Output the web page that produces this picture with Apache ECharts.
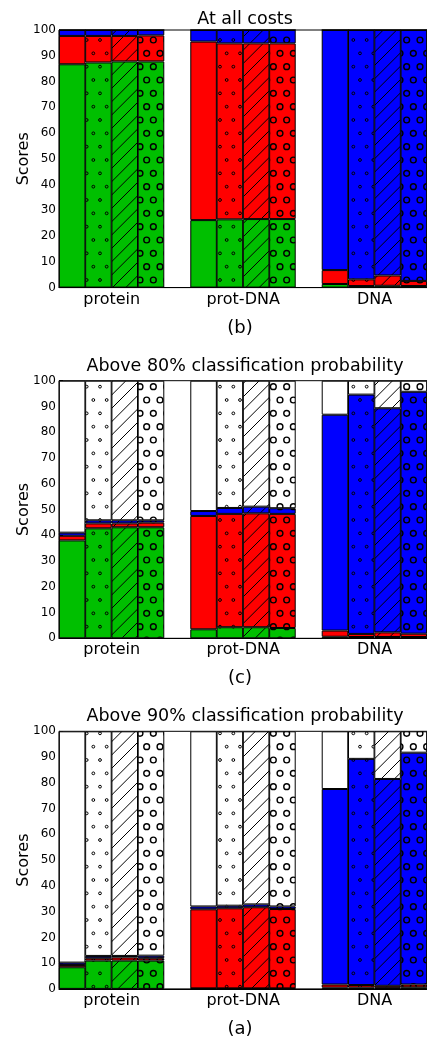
<!DOCTYPE html>
<html>
<head>
<meta charset="utf-8">
<script src="https://cdn.jsdelivr.net/npm/echarts@6/dist/echarts.min.js"></script>
<style>
html,body{margin:0;padding:0;background:#fff;}
#main{width:427px;height:1038px;}
</style>
</head>
<body>
<div id="main"></div>
<script>
// 面板标题
var titles = ['At all costs', 'Above 80% classification probability', 'Above 90% classification probability'];
var panelTags = ['(b)', '(c)', '(a)'];
// x slots: 4 bars per group, one empty slot between groups; group name sits on the 2nd slot
var categories = ['', 'protein', '', '', '', '', 'prot-DNA', '', '', '', '', 'DNA', '', ''];
var barSlots = [0, 1, 2, 3, 5, 6, 7, 8, 10, 11, 12, 13];
var yTicks = [0, 10, 20, 30, 40, 50, 60, 70, 80, 90, 100];
// hatch of the bars inside a group
var hatches = ['', '.', '/', 'o'];

// (b) at all costs
var greenB = [86.7, 87.4, 87.8, 87.8, 26.2, 26.5, 26.6, 26.6, 1.4, 0.6, 0.7, 0.6];
var redB   = [11.0, 10.3, 9.9, 10.1, 69.3, 68.3, 68.2, 68.2, 5.4, 2.6, 4.0, 2.0];
var blueB  = [2.3, 2.3, 2.3, 2.1, 4.5, 5.2, 5.2, 5.2, 93.2, 96.8, 95.3, 97.4];
// (c) above 80%
var greenC = [38.0, 42.7, 43.1, 43.1, 3.5, 4.3, 4.3, 4.0, 0.6, 0.5, 0.5, 0.5];
var redC   = [1.8, 1.9, 1.5, 1.8, 44.0, 44.0, 44.2, 44.3, 2.4, 1.2, 1.8, 1.3];
var blueC  = [1.2, 1.2, 1.2, 0.9, 1.9, 2.3, 2.6, 2.2, 83.8, 92.9, 87.0, 93.9];
// (a) above 90%
var greenA = [8.4, 11.0, 11.0, 11.0, 0.2, 0.2, 0.2, 0.2, 0.5, 0.5, 0.4, 0.6];
var redA   = [0.9, 0.9, 1.2, 0.9, 30.7, 31.1, 31.5, 30.8, 1.2, 1.0, 0.8, 1.1];
var blueA  = [0.9, 0.9, 0.6, 1.0, 1.1, 1.0, 1.1, 1.0, 75.9, 87.8, 80.3, 90.0];

var panels = [[greenB, redB, blueB], [greenC, redC, blueC], [greenA, redA, blueA]];
var colors = ['#00bf00', '#ff0000', '#0000ff', '#ffffff'];

// 面板位置
var plotLeft = 59, plotWidth = 372;
var plotTops = [30, 380.7, 731.3];
var plotHeight = 257.6;
var titleY = [19.5, 366, 716.5];
var barW = plotWidth / categories.length;
var font = 'DejaVu Sans';

// 图案填充 (matplotlib hatch)
var fillCache = {};
function makeFill(color, hatch) {
  if (!hatch) return color;
  var key = color + hatch;
  if (fillCache[key]) return fillCache[key];
  var c = document.createElement('canvas');
  c.width = 40; c.height = 80;
  var ctx = c.getContext('2d');
  ctx.fillStyle = color;
  ctx.fillRect(0, 0, 40, 80);
  ctx.strokeStyle = '#000';
  var p = 40 / 3;
  if (hatch === '/') {
    ctx.lineWidth = 1;
    for (var k = -6; k <= 6; k++) {
      ctx.beginPath();
      ctx.moveTo(k * p, 80);
      ctx.lineTo(k * p + 80, 0);
      ctx.stroke();
    }
  } else {
    var r = hatch === 'o' ? 2.9 : 1.4;
    ctx.lineWidth = hatch === 'o' ? 1.4 : 1;
    for (var row = 0; row < 7; row++) {
      var off = row % 2 ? p / 2 : 0;
      for (var col = -1; col < 4; col++) {
        ctx.beginPath();
        ctx.arc(col * p + off, row * p, r, 0, Math.PI * 2);
        ctx.stroke();
      }
    }
  }
  fillCache[key] = {image: c, repeat: 'repeat'};
  return fillCache[key];
}

var grids = [], xAxes = [], yAxes = [], series = [], graphics = [];
panels.forEach(function (vals, p) {
  grids.push({
    left: plotLeft, top: plotTops[p], width: plotWidth, height: plotHeight,
    show: true, borderColor: '#000', borderWidth: 1, backgroundColor: 'transparent'
  });
  xAxes.push({
    gridIndex: p, type: 'category', data: categories, boundaryGap: true,
    axisLine: {show: true, lineStyle: {color: '#000', width: 1}},
    axisTick: {show: false},
    splitLine: {show: false},
    // 标签移到两根柱子之间
    axisLabel: {color: '#000', fontSize: 16, fontFamily: font, margin: 4, interval: 0, padding: [0, 0, 0, barW]}
  });
  yAxes.push({
    gridIndex: p, type: 'value', min: yTicks[0], max: yTicks[yTicks.length - 1], interval: 10,
    name: 'Scores', nameLocation: 'middle', nameGap: 27, nameMoveOverlap: false,
    nameTextStyle: {color: '#000', fontSize: 16, fontFamily: font},
    axisLine: {show: true, lineStyle: {color: '#000', width: 1}},
    axisTick: {show: true, inside: true, length: 4, lineStyle: {color: '#000'}},
    splitLine: {show: false},
    axisLabel: {color: '#000', fontSize: 12, fontFamily: font, margin: 3}
  });
  // 剩余部分为白色
  var white = vals[0].map(function (v, i) {
    return Math.max(0, +(100 - vals[0][i] - vals[1][i] - vals[2][i]).toFixed(2));
  });
  var layers = [vals[0], vals[1], vals[2], white];
  layers.forEach(function (arr, s) {
    var data = categories.map(function () { return '-'; });
    arr.forEach(function (v, i) {
      data[barSlots[i]] = {value: v, itemStyle: {color: makeFill(colors[s], hatches[i % 4])}};
    });
    series.push({
      type: 'bar', xAxisIndex: p, yAxisIndex: p, stack: 'panel' + p,
      barWidth: barW, silent: true, animation: false,
      itemStyle: {borderColor: '#000', borderWidth: 1},
      data: data
    });
  });
  var cx = plotLeft + plotWidth / 2;
  graphics.push({
    type: 'text', x: cx, y: titleY[p],
    style: {text: titles[p], align: 'center', verticalAlign: 'middle', fill: '#000', font: '17.5px "DejaVu Sans"'}
  });
  graphics.push({
    type: 'text', x: 240, y: plotTops[p] + plotHeight + 40.5,
    style: {text: panelTags[p], align: 'center', verticalAlign: 'middle', fill: '#000', font: '18px "DejaVu Sans"'}
  });
});

var myChart = echarts.init(document.getElementById('main'), null, {renderer: 'canvas'});
myChart.setOption({
  animation: false,
  backgroundColor: '#fff',
  grid: grids,
  xAxis: xAxes,
  yAxis: yAxes,
  series: series,
  graphic: graphics
});
</script>
</body>
</html>
